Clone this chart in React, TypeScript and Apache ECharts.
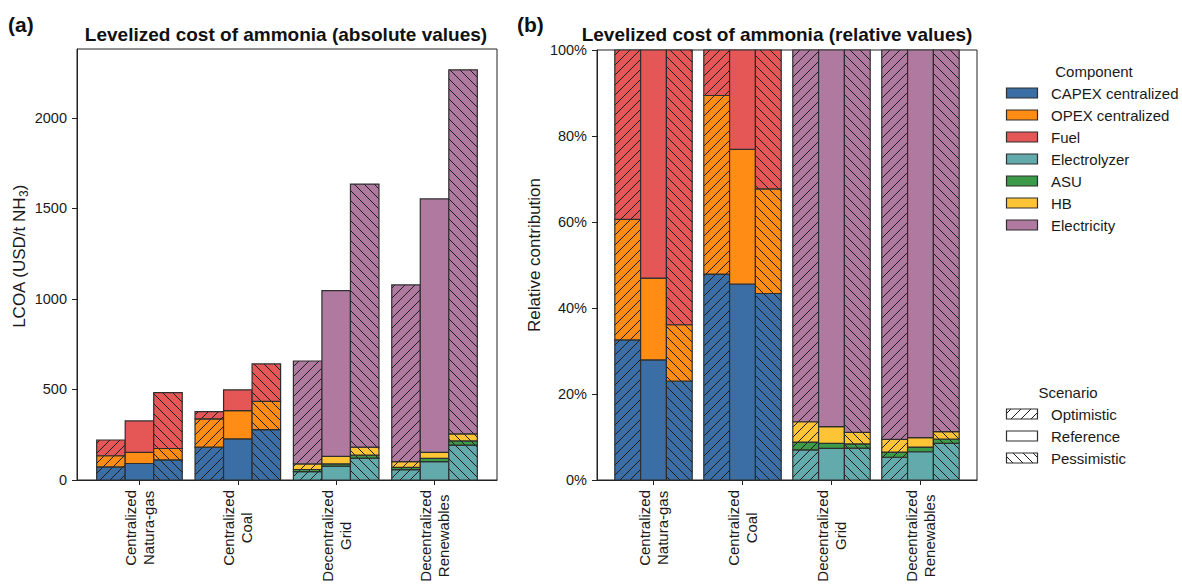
import React, { useEffect, useRef } from "react";
import * as echarts from "echarts";

// ---------- data ----------
const categories = [
  "Centralized\nNatura-gas",
  "Centralized\nCoal",
  "Decentralized\nGrid",
  "Decentralized\nRenewables",
];
const scenarios = ["Optimistic", "Reference", "Pessimistic"];
const components = [
  "CAPEX centralized",
  "OPEX centralized",
  "Fuel",
  "Electrolyzer",
  "ASU",
  "HB",
  "Electricity",
];
const componentColors = ["#3a6ea5", "#ff8c14", "#e45756", "#62aaab", "#3d9a48", "#fdc536", "#b07aa0"];

// values in USD/t NH3, per category: [Optimistic, Reference, Pessimistic]
const capexCentralized = [[72, 91, 111], [181, 227, 278], [0, 0, 0], [0, 0, 0]];
const opexCentralized = [[62, 62, 63], [157, 156, 156], [0, 0, 0], [0, 0, 0]];
const fuel = [[87, 173, 308], [40, 115, 207], [0, 0, 0], [0, 0, 0]];
const electrolyzer = [[0, 0, 0], [0, 0, 0], [46, 77, 121], [57, 102, 193]];
const asu = [[0, 0, 0], [0, 0, 0], [12, 12, 16], [13, 17, 23]];
const hb = [[0, 0, 0], [0, 0, 0], [31, 41, 44], [32, 34, 39]];
const electricity = [[0, 0, 0], [0, 0, 0], [568, 916, 1453], [975, 1399, 2010]];

const componentValues = [capexCentralized, opexCentralized, fuel, electrolyzer, asu, hb, electricity];

const xTicks = [0, 1, 2, 3];
const yTicksAbs = [0, 500, 1000, 1500, 2000];
const yTicksRel = [0, 0.2, 0.4, 0.6, 0.8, 1.0];

// ---------- styling ----------
const FONT = '"Liberation Sans", Arial, Helvetica, sans-serif';
const TXT = "#1a1a1a";
const EDGE = "#2e2e2e";
const BAR_W = 0.29;
const HATCH = 10;
const X_MIN = -0.635;
const X_MAX = 3.635;
const TICK_FS = 14.5;
const CAT_FS = 15;
const LEG_FS = 15;
const hatchDir = [1, 0, -1]; // optimistic '/', reference none, pessimistic '\'

function hatchSegs(x0: number, y0: number, x1: number, y1: number, dir: number) {
  const segs: number[][] = [];
  if (dir === 1) {
    const cMin = x0 + y0, cMax = x1 + y1;
    for (let c = Math.ceil(cMin / HATCH) * HATCH; c <= cMax; c += HATCH) {
      const xa = Math.max(x0, c - y1), xb = Math.min(x1, c - y0);
      if (xb - xa > 0.3) segs.push([xa, c - xa, xb, c - xb]);
    }
  } else if (dir === -1) {
    const cMin = x0 - y1, cMax = x1 - y0;
    for (let c = Math.ceil(cMin / HATCH) * HATCH; c <= cMax; c += HATCH) {
      const xa = Math.max(x0, c + y0), xb = Math.min(x1, c + y1);
      if (xb - xa > 0.3) segs.push([xa, xa - c, xb, xb - c]);
    }
  }
  return segs;
}

function buildData(relative: boolean) {
  const out: number[][] = [];
  categories.forEach((_, ci) => {
    scenarios.forEach((__, si) => {
      let total = 0;
      componentValues.forEach((arr) => (total += arr[ci][si]));
      let bottom = 0;
      componentValues.forEach((arr, k) => {
        const v = relative ? arr[ci][si] / total : arr[ci][si];
        if (v > 0) {
          out.push([ci + (si - 1) * BAR_W, bottom, bottom + v, k, si]);
          bottom += v;
        }
      });
    });
  });
  return out;
}

function renderBar(params: any, api: any) {
  const x = api.value(0), b = api.value(1), t = api.value(2);
  const comp = api.value(3), scen = api.value(4);
  const pTL = api.coord([x - BAR_W / 2, t]);
  const pBR = api.coord([x + BAR_W / 2, b]);
  const x0 = pTL[0], y0 = pTL[1], x1 = pBR[0], y1 = pBR[1];
  const children: any[] = [
    { type: "rect", shape: { x: x0, y: y0, width: x1 - x0, height: y1 - y0 }, style: { fill: componentColors[comp], stroke: null } },
  ];
  hatchSegs(x0, y0, x1, y1, hatchDir[scen]).forEach((s) => {
    children.push({ type: "line", shape: { x1: s[0], y1: s[1], x2: s[2], y2: s[3] }, style: { stroke: "#1c1c1c", lineWidth: 1 } });
  });
  children.push({ type: "rect", shape: { x: x0, y: y0, width: x1 - x0, height: y1 - y0 }, style: { fill: "none", stroke: EDGE, lineWidth: 1.2 } });
  return { type: "group", children };
}

function xAxisCfg(gridIndex: number) {
  return {
    type: "value",
    gridIndex,
    min: X_MIN,
    max: X_MAX,
    splitLine: { show: false },
    axisLine: { show: true, onZero: false, lineStyle: { color: "#222", width: 1 } },
    axisTick: { show: true, length: 5, customValues: xTicks, lineStyle: { color: "#222" } },
    axisLabel: {
      customValues: xTicks,
      rotate: 90,
      margin: 10,
      color: TXT,
      fontFamily: FONT,
      fontSize: CAT_FS,
      formatter: (v: number) => {
        const parts = categories[Math.round(v)].split("\n");
        return parts.map((p) => `{t|${p}}`).join("\n");
      },
      rich: { t: { align: "center", fontSize: CAT_FS, fontFamily: FONT, color: TXT, lineHeight: 18 } },
    },
  };
}

function legendGraphics() {
  const els: any[] = [];
  els.push({ type: "text", x: 1094, y: 71, style: { text: "Component", fontSize: LEG_FS, fontFamily: FONT, fill: TXT, align: "center", verticalAlign: "middle" } });
  const rows = [93, 115, 137, 159, 181, 203, 225];
  components.forEach((c, i) => {
    els.push({ type: "rect", shape: { x: 1006.5, y: rows[i] - 5, width: 31, height: 10 }, style: { fill: componentColors[i], stroke: EDGE, lineWidth: 1.2 } });
    els.push({ type: "text", x: 1051, y: rows[i], style: { text: c, fontSize: LEG_FS, fontFamily: FONT, fill: TXT, align: "left", verticalAlign: "middle" } });
  });
  els.push({ type: "text", x: 1068, y: 392, style: { text: "Scenario", fontSize: LEG_FS, fontFamily: FONT, fill: TXT, align: "center", verticalAlign: "middle" } });
  const srows = [414, 436, 458];
  scenarios.forEach((s, i) => {
    const x0 = 1006.5, y0 = srows[i] - 5, x1 = x0 + 31, y1 = y0 + 10;
    hatchSegs(x0, y0, x1, y1, hatchDir[i]).forEach((g) => {
      els.push({ type: "line", shape: { x1: g[0], y1: g[1], x2: g[2], y2: g[3] }, style: { stroke: "#1c1c1c", lineWidth: 1 } });
    });
    els.push({ type: "rect", shape: { x: x0, y: y0, width: 31, height: 10 }, style: { fill: "none", stroke: EDGE, lineWidth: 1.2 } });
    els.push({ type: "text", x: 1051, y: srows[i], style: { text: s, fontSize: LEG_FS, fontFamily: FONT, fill: TXT, align: "left", verticalAlign: "middle" } });
  });
  // panel labels and titles
  els.push({ type: "text", x: 8, y: 24, style: { text: "(a)", fontSize: 21, fontWeight: "bold", fontFamily: FONT, fill: "#111", align: "left", verticalAlign: "middle" } });
  els.push({ type: "text", x: 517, y: 24, style: { text: "(b)", fontSize: 21, fontWeight: "bold", fontFamily: FONT, fill: "#111", align: "left", verticalAlign: "middle" } });
  els.push({ type: "text", x: 286, y: 34, style: { text: "Levelized cost of ammonia (absolute values)", fontSize: 19, fontWeight: "bold", fontFamily: FONT, fill: "#111", align: "center", verticalAlign: "middle" } });
  els.push({ type: "text", x: 777, y: 34, style: { text: "Levelized cost of ammonia (relative values)", fontSize: 19, fontWeight: "bold", fontFamily: FONT, fill: "#111", align: "center", verticalAlign: "middle" } });
  return els;
}

export default function App() {
  const ref = useRef<HTMLDivElement>(null);
  useEffect(() => {
    if (!ref.current) return;
    const chart = echarts.init(ref.current, null, { renderer: "svg" });
    const option: any = {
      animation: false,
      backgroundColor: "#ffffff",
      grid: [
        { left: 77, top: 49, width: 420, height: 431, show: true, borderColor: "#222", borderWidth: 1, backgroundColor: "transparent" },
        { left: 597, top: 50, width: 380, height: 430, show: true, borderColor: "#222", borderWidth: 1, backgroundColor: "transparent" },
      ],
      xAxis: [xAxisCfg(0), xAxisCfg(1)],
      yAxis: [
        {
          type: "value",
          gridIndex: 0,
          min: 0,
          max: 2380,
          splitLine: { show: false },
          axisLine: { show: true, onZero: false, lineStyle: { color: "#222", width: 1 } },
          axisTick: { show: true, length: 5, customValues: yTicksAbs, lineStyle: { color: "#222" } },
          axisLabel: { customValues: yTicksAbs, margin: 10, color: TXT, fontFamily: FONT, fontSize: TICK_FS, formatter: (v: number) => String(v) },
          name: "{n|LCOA (USD/t NH}{s|3}{n|)}",
          nameLocation: "middle",
          nameGap: 47,
          nameRotate: 90,
          nameTextStyle: {
            fontSize: 17,
            fontFamily: FONT,
            color: TXT,
            padding: [0, 0, 0, 16],
            rich: {
              n: { fontSize: 17, fontFamily: FONT, color: TXT, lineHeight: 21 },
              s: { fontSize: 12, fontFamily: FONT, color: TXT, verticalAlign: "bottom" },
            },
          },
        },
        {
          type: "value",
          gridIndex: 1,
          min: 0,
          max: 1,
          splitLine: { show: false },
          axisLine: { show: true, onZero: false, lineStyle: { color: "#222", width: 1 } },
          axisTick: { show: true, length: 5, customValues: yTicksRel, lineStyle: { color: "#222" } },
          axisLabel: {
            customValues: yTicksRel,
            margin: 10,
            color: TXT,
            fontFamily: FONT,
            fontSize: TICK_FS,
            formatter: (v: number) => `${Math.round(v * 100)}%`,
          },
          name: "Relative contribution",
          nameLocation: "middle",
          nameGap: 54,
          nameRotate: 90,
          nameTextStyle: { fontSize: 17, fontFamily: FONT, color: TXT, padding: [0, 0, 0, 20] },
        },
      ],
      series: [
        {
          type: "custom",
          name: "absolute",
          xAxisIndex: 0,
          yAxisIndex: 0,
          renderItem: renderBar,
          encode: { x: 0, y: [1, 2] },
          data: buildData(false),
          silent: true,
          clip: false,
        },
        {
          type: "custom",
          name: "relative",
          xAxisIndex: 1,
          yAxisIndex: 1,
          renderItem: renderBar,
          encode: { x: 0, y: [1, 2] },
          data: buildData(true),
          silent: true,
          clip: false,
        },
      ],
      graphic: legendGraphics(),
    };
    chart.setOption(option);
    return () => chart.dispose();
  }, []);
  return <div ref={ref} style={{ position: "fixed", left: 0, top: 0, width: 1182, height: 585 }} />;
}
